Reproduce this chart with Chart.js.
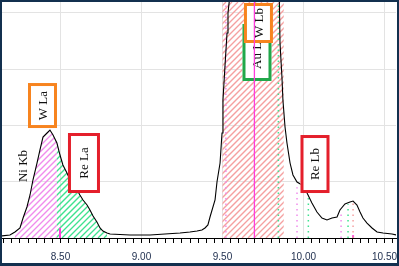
<!DOCTYPE html>
<html>
<head>
<meta charset="utf-8">
<script src="https://cdn.jsdelivr.net/npm/chart.js@4.4.1/dist/chart.umd.min.js"></script>
<style>
  body { margin: 0; background: #fff; }
  #frame { width: 395px; height: 261px; border: solid #13304f; border-width: 2px 2px 3px 2px; }
  canvas { display: block; }
</style>
</head>
<body>
<div id="frame"><canvas id="myChart" width="395" height="261"></canvas></div>
<script>
// spectrum, keV vs counts (arbitrary units, 1 = one grid line)
const energy = [8.13, 8.188, 8.219, 8.25, 8.269, 8.293, 8.312, 8.330, 8.355, 8.373,
  8.392, 8.417, 8.435, 8.454, 8.478, 8.497, 8.515, 8.540, 8.559, 8.577,
  8.602, 8.620, 8.639, 8.664, 8.682, 8.701, 8.725, 8.744, 8.762, 8.787,
  8.806, 8.929, 9.052, 9.145, 9.238, 9.299, 9.343, 9.373, 9.392, 9.410,
  9.423, 9.454, 9.466, 9.485, 9.497, 9.503, 9.515, 9.528, 9.534, 9.546,
  9.60, 9.70, 9.80, 9.849, 9.855, 9.867, 9.873, 9.886, 9.898, 9.917,
  9.935, 9.960, 9.991, 10.022, 10.052, 10.083, 10.114, 10.145, 10.176, 10.207,
  10.225, 10.256, 10.287, 10.306, 10.330, 10.349, 10.367, 10.392, 10.423, 10.454,
  10.491, 10.546, 10.577];
const counts = [0.036, 0.053, 0.107, 0.178, 0.355, 0.551, 0.764, 1.030, 1.332, 1.563,
  1.794, 1.865, 1.918, 1.829, 1.687, 1.474, 1.297, 1.155, 1.030, 0.924,
  0.853, 0.764, 0.675, 0.586, 0.497, 0.391, 0.284, 0.178, 0.124, 0.089,
  0.071, 0.053, 0.053, 0.071, 0.089, 0.107, 0.124, 0.142, 0.178, 0.231,
  0.373, 0.675, 0.995, 1.332, 1.865, 2.451, 3.037, 3.641, 3.996, 4.316,
  7.5, 9.0, 7.5, 4.6, 3.464, 2.860, 2.451, 1.972, 1.687, 1.332,
  1.119, 0.995, 0.941, 0.799, 0.622, 0.462, 0.355, 0.320, 0.355, 0.373,
  0.497, 0.604, 0.639, 0.657, 0.586, 0.462, 0.355, 0.266, 0.178, 0.107,
  0.089, 0.071, 0.053];

// shaded ranges (keV)
const wLaRange = [8.219, 8.478];
const reLaRange = [8.478, 8.787];
const auRange = [9.50, 9.878];

// element marker lines
const markerX = [9.521, 9.845, 9.960, 10.030, 10.232, 10.275, 10.306];
const markerTop = [4.19, 4.19, 0.90, 0.73, 0.45, 0.60, 0.62];
const markerKind = ['pink', 'green', 'pink', 'green', 'pink', 'green', 'salmon'];
const solidX = [8.497, 10.306];
const solidTop = [0.18, 0.05];
const auLine = 9.697;

// peak labels
const labelText = ['W La', 'Re La', 'Ni Kb', 'Au La', 'W Lb', 'Re Lb'];
const labelX = [8.389, 8.645, 8.265, 9.713, 9.722, 10.071];
const labelY = [2.353, 1.332, 1.279, 3.295, 3.819, 1.314];

const yMax = 4.192;

const palette = { pink: '#f08cec', green: '#3ee28f', salmon: '#f5a0a0' };
const boxStyle = [
  { c: '#f7841f', w: 29, h: 45 },
  { c: '#e41f2b', w: 32, h: 60 },
  null,
  { c: '#21a84a', w: 29, h: 57 },
  { c: '#f7841f', w: 29, h: 40 },
  { c: '#e41f2b', w: 29, h: 58 }
];

let spectrum = energy.map((e, i) => ({ x: e, y: counts[i] }));
let inRange = r => spectrum.filter(p => p.x >= r[0] - 1e-9 && p.x <= r[1] + 1e-9);
let isMajor = v => Math.abs(v * 2 - Math.round(v * 2)) < 1e-6;

// hatched regions: outline points only, hatching drawn by plugin below
let datasets = [
  { label: 'wla', data: inRange(wLaRange), hatch: palette.pink, showLine: false, order: 3 },
  { label: 'rela', data: inRange(reLaRange), hatch: palette.green, showLine: false, order: 3 },
  { label: 'au', data: [{ x: auRange[0], y: yMax }, { x: auRange[1], y: yMax }], hatch: palette.salmon, showLine: false, order: 3 },
  { label: 'spectrum', data: spectrum, borderColor: '#000', borderWidth: 1.1, fill: false, order: 1 },
  { label: 'auline', data: [{ x: auLine, y: 0 }, { x: auLine, y: yMax }], borderColor: '#ff3cdc', borderWidth: 1.3, order: 0 }
];
markerX.forEach((x, i) => {
  datasets.push({ label: 'm' + i, data: [{ x: x, y: 0 }, { x: x, y: markerTop[i] }],
    borderColor: palette[markerKind[i]], borderWidth: 1.5, borderDash: [1.5, 4], order: 2 });
});
solidX.forEach((x, i) => {
  datasets.push({ label: 's' + i, data: [{ x: x, y: 0 }, { x: x, y: solidTop[i] }],
    borderColor: '#ff3cdc', borderWidth: 2, order: 2 });
});

const hatchFill = {
  id: 'hatchFill',
  afterDatasetDraw(chart, args) {
    let ds = chart.data.datasets[args.index];
    if (!ds.hatch) return;
    let pts = args.meta.data, c = chart.ctx, area = chart.chartArea;
    let base = chart.scales.y.getPixelForValue(0);
    c.save();
    c.beginPath();
    c.rect(area.left, area.top, area.right - area.left, area.bottom - area.top);
    c.clip();
    c.beginPath();
    c.moveTo(pts[0].x, base);
    pts.forEach(p => c.lineTo(p.x, p.y));
    c.lineTo(pts[pts.length - 1].x, base);
    c.closePath();
    c.clip();
    c.strokeStyle = ds.hatch;
    c.lineWidth = 1.3;
    c.beginPath();
    let h = area.bottom - area.top;
    for (let k = Math.floor((area.left - h) / 6) * 6; k < area.right; k += 6) {
      c.moveTo(k, area.bottom);
      c.lineTo(k + h, area.top);
    }
    c.stroke();
    c.restore();
  }
};

const labelBoxes = {
  id: 'labelBoxes',
  afterDatasetDraw(chart, args) {
    if (chart.data.datasets[args.index].label !== 'spectrum') return;
    let c = chart.ctx, xs = chart.scales.x, ys = chart.scales.y;
    c.save();
    labelText.forEach((t, i) => {
      let cx = xs.getPixelForValue(labelX[i]), cy = ys.getPixelForValue(labelY[i]);
      let b = boxStyle[i];
      if (b) {
        c.fillStyle = '#fff';
        c.fillRect(cx - b.w / 2, cy - b.h / 2, b.w, b.h);
        c.strokeStyle = b.c;
        c.lineWidth = 3;
        c.strokeRect(cx - b.w / 2 + 1.5, cy - b.h / 2 + 1.5, b.w - 3, b.h - 3);
      }
      c.save();
      c.translate(cx, cy);
      c.rotate(-Math.PI / 2);
      c.fillStyle = '#111';
      c.font = '13px "Liberation Serif"';
      c.textAlign = 'center';
      c.textBaseline = 'middle';
      c.fillText(t, 0, 1);
      c.restore();
    });
    c.restore();
  }
};

new Chart(document.querySelector('#myChart').getContext('2d'), {
  type: 'line',
  data: { datasets: datasets },
  options: {
    responsive: false,
    animation: false,
    devicePixelRatio: 1,
    layout: { padding: { left: 0, right: 1, top: 0, bottom: 0 } },
    elements: { point: { radius: 0 }, line: { tension: 0 } },
    plugins: { legend: { display: false }, tooltip: { enabled: false } },
    scales: {
      x: {
        type: 'linear', min: 8.139, max: 10.571,
        border: { color: '#000', width: 1 },
        grid: {
          color: c => (c.tick && isMajor(c.tick.value)) ? '#e3e3e3' : 'rgba(0,0,0,0)',
          tickColor: '#000', tickLength: 5
        },
        ticks: {
          stepSize: 0.05, autoSkip: false, includeBounds: false, maxRotation: 0, padding: 8,
          color: '#1c2c4c', font: { family: 'Liberation Sans', size: 10 },
          callback: v => isMajor(v) ? v.toFixed(2) : ''
        },
        afterFit: s => { s.height = 25; s.paddingLeft = 0; s.paddingRight = 0; }
      },
      y: {
        min: 0, max: yMax,
        ticks: { display: false, stepSize: 1, includeBounds: false },
        grid: { color: c => (c.tick && c.tick.value === 0) ? 'rgba(0,0,0,0)' : '#e3e3e3', drawTicks: false },
        border: { display: false },
        afterFit: s => { s.width = 0; }
      }
    }
  },
  plugins: [hatchFill, labelBoxes]
});
</script>
</body>
</html>
